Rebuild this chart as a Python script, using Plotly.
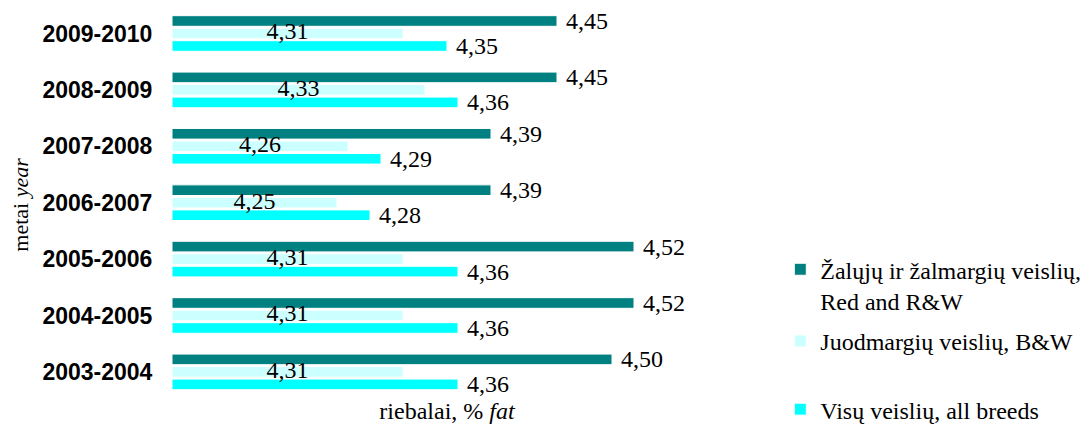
import plotly.graph_objects as go

years = ["2009-2010", "2008-2009", "2007-2008", "2006-2007", "2005-2006", "2004-2005", "2003-2004"]
red_rw = [4.45, 4.45, 4.39, 4.39, 4.52, 4.52, 4.50]
bw = [4.31, 4.33, 4.26, 4.25, 4.31, 4.31, 4.31]
all_breeds = [4.35, 4.36, 4.29, 4.28, 4.36, 4.36, 4.36]
axis_min = 4.1
axis_max = 4.6

names = ["Žalųjų ir žalmargių veislių,<br>Red and R&W", "Juodmargių veislių, B&W", "Visų veislių, all breeds"]
colors = ["#008080", "#CCFFFF", "#00FFFF"]

SERIF = "Liberation Serif, Times New Roman, serif"
SANS = "Liberation Sans, Arial, sans-serif"


def fmt(v):
    return f"{v:.2f}".replace(".", ",")


fig = go.Figure()
series = [red_rw, bw, all_breeds]
legends = ["legend", "legend2", "legend3"]
for i, vals in enumerate(series):
    inside = (i == 1)
    fig.add_trace(go.Bar(
        y=years, x=[v - axis_min for v in vals], base=axis_min, orientation="h", name=names[i],
        marker=dict(color=colors[i], line=dict(color="white", width=1)),
        text=(None if inside else [fmt(v) for v in vals]),
        texttemplate=(None if inside else " %{text}"),
        textposition=("none" if inside else "outside"),
        constraintext="none",
        cliponaxis=False,
        textfont=dict(family=SERIF, size=24, color="black"),
        outsidetextfont=dict(family=SERIF, size=24, color="black"),
        legend=legends[i],
        hoverinfo="skip",
    ))

# B&W value labels centred on the middle (B&W) bar of each group, drawn above all bars
fig.add_trace(go.Scatter(
    y=years, x=[(axis_min + v) / 2 for v in bw], mode="text",
    text=[fmt(v) for v in bw], textposition="middle center",
    textfont=dict(family=SERIF, size=24, color="black"),
    showlegend=False, hoverinfo="skip", cliponaxis=False,
))

legend_common = dict(font=dict(family=SERIF, size=24, color="black"), bgcolor="rgba(0,0,0,0)",
                     xanchor="left", yanchor="top", valign="top", itemwidth=30)
fig.update_layout(
    width=1081, height=424,
    margin=dict(l=164, r=367, t=0, b=30, autoexpand=False),
    paper_bgcolor="white", plot_bgcolor="white",
    barmode="group", bargap=0.335, bargroupgap=0.15,
    showlegend=True,
    legend=dict(x=1.106, y=0.393, **legend_common),
    legend2=dict(x=1.106, y=0.211, **legend_common),
    legend3=dict(x=1.106, y=0.038, **legend_common),
    xaxis=dict(range=[axis_min, axis_max], showticklabels=False, showgrid=False, zeroline=False,
               showline=False, ticks="",
               title=dict(text="riebalai, % <i>fat</i>", font=dict(family=SERIF, size=24, color="black"), standoff=0)),
    yaxis=dict(range=[6.534, -0.452], showgrid=False, showline=False, ticks="outside", ticklen=14,
               tickcolor="rgba(0,0,0,0)",
               tickfont=dict(family=SANS, size=23, color="black", weight="bold"),
               title=dict(text="metai <i>year</i>", font=dict(family=SERIF, size=22, color="black"), standoff=22)),
)
fig.write_html("out.html")
